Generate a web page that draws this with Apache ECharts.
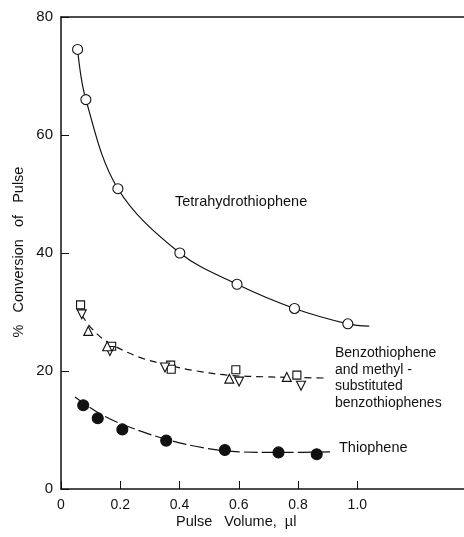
<!DOCTYPE html>
<html>
<head>
<meta charset="utf-8">
<script src="https://cdn.jsdelivr.net/npm/echarts@6/dist/echarts.min.js"></script>
<style>
  html, body { margin: 0; padding: 0; background: #fff; }
  #chart { width: 464px; height: 537px; }
</style>
</head>
<body>
<div id="chart"></div>
<script>
// measured points, [pulse volume (ul), % conversion]
const tetraPoints = [[0.056, 74.5], [0.084, 66.0], [0.192, 50.9], [0.401, 40.0], [0.594, 34.7], [0.788, 30.6], [0.968, 28.0]];
const tetraCurve = [[0.056, 74.5], [0.084, 66.0], [0.192, 50.9], [0.401, 40.0], [0.594, 34.7], [0.788, 30.6], [0.968, 28.0], [1.04, 27.6]];

const benzoSquares = [[0.066, 31.2], [0.171, 24.2], [0.370, 21.0], [0.372, 20.3], [0.590, 20.2], [0.796, 19.3]];
const benzoDown = [[0.070, 29.6], [0.165, 23.4], [0.351, 20.6], [0.601, 18.2], [0.810, 17.5]];
const benzoUp = [[0.092, 26.8], [0.156, 24.2], [0.568, 18.7], [0.762, 19.0]];
const benzoCurve = [[0.07, 29.5], [0.10, 27.4], [0.154, 25.0], [0.266, 22.3], [0.37, 20.9], [0.446, 20.1], [0.56, 19.3], [0.70, 19.0], [0.90, 18.8]];

const thioPoints = [[0.075, 14.2], [0.124, 12.0], [0.207, 10.1], [0.355, 8.2], [0.553, 6.6], [0.734, 6.2], [0.863, 5.9]];
const thioCurve = [[0.047, 15.6], [0.12, 13.1], [0.20, 11.1], [0.356, 8.4], [0.49, 6.9], [0.60, 6.3], [0.75, 6.2], [0.91, 6.3]];

const xTicks = [0, 0.2, 0.4, 0.6, 0.8, 1.0];

const font = 'Liberation Sans';
const chart = echarts.init(document.getElementById('chart'));

function curve(data, type) {
  return {
    type: 'line', data: data, smooth: 0.35, showSymbol: false, silent: true, z: 1,
    lineStyle: { color: '#111', width: 1.2, type: type }
  };
}

function marks(data, symbol, size, fill) {
  return {
    type: 'scatter', data: data, symbol: symbol, symbolSize: size, z: 3,
    itemStyle: { color: fill, borderColor: '#111', borderWidth: 1.1, opacity: 1 }
  };
}

const option = {
  animation: false,
  backgroundColor: '#fff',
  grid: { left: 61, right: 0, top: 17, bottom: 48 },
  xAxis: [{
    type: 'value', min: 0, max: 1.36,
    axisLine: { show: true, lineStyle: { color: '#111', width: 1.5 } },
    axisTick: { show: true, inside: true, length: 8, customValues: xTicks, lineStyle: { color: '#111' } },
    axisLabel: {
      customValues: xTicks, color: '#111', fontFamily: font, fontSize: 14, margin: 9,
      formatter: v => v === 0 ? '0' : v.toFixed(1)
    },
    splitLine: { show: false }
  }, {
    type: 'value', position: 'top', min: 0, max: 1.36,
    axisLine: { show: true, onZero: false, lineStyle: { color: '#111', width: 1.5 } },
    axisTick: { show: false }, axisLabel: { show: false }, splitLine: { show: false }
  }],
  yAxis: {
    type: 'value', min: 0, max: 80, interval: 20,
    axisLine: { show: true, lineStyle: { color: '#111', width: 1.5 } },
    axisTick: { show: true, inside: true, length: 8, lineStyle: { color: '#111' } },
    axisLabel: { color: '#111', fontFamily: font, fontSize: 15, margin: 8 },
    splitLine: { show: false }
  },
  series: [
    curve(tetraCurve, 'solid'),
    curve(benzoCurve, [7, 5]),
    curve(thioCurve, [14, 4]),
    marks(tetraPoints, 'circle', 10, '#fff'),
    marks(benzoSquares, 'rect', 8, '#fff'),
    marks(benzoDown, 'path://M0,0 L10,0 L5,9 Z', 9, '#fff'),
    marks(benzoUp, 'triangle', 9, '#fff'),
    marks(thioPoints, 'circle', 11, '#111')
  ],
  graphic: [
    { type: 'text', left: 175, top: 194, style: { text: 'Tetrahydrothiophene', font: '14.5px ' + font, fill: '#111' } },
    { type: 'text', left: 335, top: 345, style: { text: 'Benzothiophene\nand methyl -\nsubstituted\nbenzothiophenes', font: '14px ' + font, fill: '#111', lineHeight: 16.5 } },
    { type: 'text', left: 339, top: 440, style: { text: 'Thiophene', font: '14.5px ' + font, fill: '#111' } },
    { type: 'text', left: 176, top: 514, style: { text: 'Pulse   Volume,  \u00b5l', font: '14.5px ' + font, fill: '#111' } },
    { type: 'text', x: 19, y: 252, rotation: Math.PI / 2, style: { text: '%   Conversion   of   Pulse', font: '14.5px ' + font, fill: '#111', align: 'center', verticalAlign: 'middle' } }
  ]
};
chart.setOption(option);
</script>
</body>
</html>
